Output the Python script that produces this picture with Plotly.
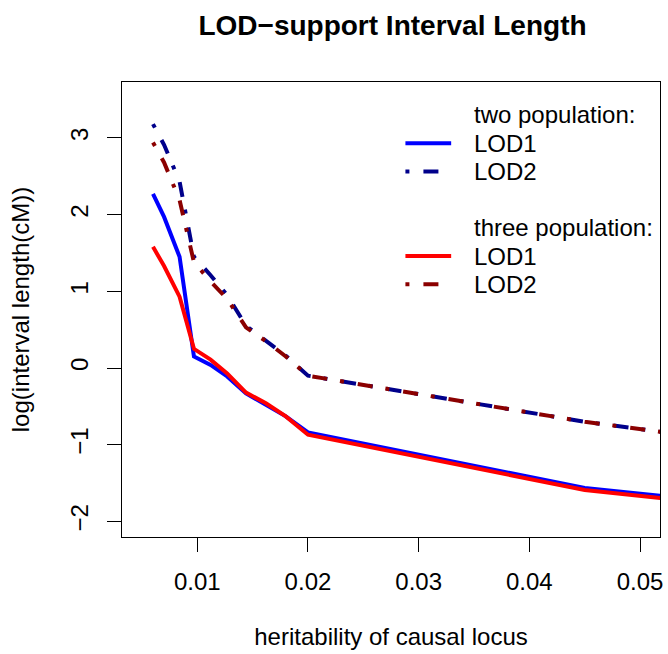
import plotly.graph_objects as go

# heritability grid of the simulated causal locus
heritability = [0.006, 0.0070, 0.0084, 0.0097, 0.0112, 0.0127, 0.0144, 0.0162, 0.0180, 0.0200, 0.0450, 0.0800]

# log interval length (cM) for LOD-1 and LOD-2 support intervals
two_pop_lod1 = [2.27, 1.97, 1.45, 0.15, 0.04, -0.11, -0.33, -0.48, -0.63, -0.84, -1.565, -2.08]
two_pop_lod2 = [3.18, 2.91, 2.43, 1.45, 1.21, 0.95, 0.55, 0.36, 0.16, -0.10, -0.70, -1.37]
three_pop_lod1 = [1.58, 1.33, 0.93, 0.25, 0.11, -0.07, -0.32, -0.46, -0.63, -0.87, -1.59, -2.13]
three_pop_lod2 = [2.94, 2.68, 2.19, 1.38, 1.13, 0.90, 0.53, 0.35, 0.15, -0.10, -0.70, -1.37]

x_ticks = [0.01, 0.02, 0.03, 0.04, 0.05]
y_ticks = [-2, -1, 0, 1, 2, 3]

# legend rows: (label, colour, dash) -- None colour means a header row
legend_rows = [
    ("two population:", None, None),
    ("LOD1", "#0000FF", "solid"),
    ("LOD2", "#00008B", "dotdash"),
    ("", None, None),
    ("three population:", None, None),
    ("LOD1", "#FF0000", "solid"),
    ("LOD2", "#8B0000", "dotdash"),
]

FONT = "Liberation Sans, Arial, Helvetica, sans-serif"
FS = 24
DOTDASH = "4px,14px,15px,13px"
LW = 4

W, H = 668, 654
L, R, T, B = 122, 5, 82, 117
PW, PH = W - L - R, H - T - B

fig = go.Figure()

series = [
    (two_pop_lod1, "#0000FF", "solid"),
    (two_pop_lod2, "#00008B", DOTDASH),
    (three_pop_lod1, "#FF0000", "solid"),
    (three_pop_lod2, "#8B0000", DOTDASH),
]
for ys, col, dash in series:
    fig.add_trace(go.Scatter(x=heritability, y=ys, mode="lines", showlegend=False,
                             line=dict(color=col, width=LW, dash=dash)))

# legend block in the upper right of the panel (no box)
def px_x(px):
    return (px - L) / PW

def px_y(py):
    return (H - B - py) / PH

row_top, row_step = 115.0, 28.2
key_x0, key_x1, text_x = 407, 453, 474
annotations = []
shapes = []
for i, (label, col, style) in enumerate(legend_rows):
    yc = row_top + i * row_step
    if label:
        annotations.append(dict(text=label, xref="paper", yref="paper",
                                x=px_x(text_x), y=px_y(yc), xanchor="left",
                                yanchor="middle", showarrow=False,
                                font=dict(family=FONT, size=FS, color="black")))
    if col:
        shapes.append(dict(type="line", xref="paper", yref="paper",
                           x0=px_x(key_x0), x1=px_x(key_x1), y0=px_y(yc), y1=px_y(yc),
                           line=dict(color=col, width=LW,
                                     dash=DOTDASH if style == "dotdash" else "solid")))

axis_common = dict(
    showgrid=False, zeroline=False, showline=True, mirror=True,
    linecolor="black", linewidth=1.3, ticks="outside", ticklen=14,
    tickwidth=1.3, tickcolor="black",
    tickfont=dict(family=FONT, size=FS, color="black"),
)

fig.update_layout(
    width=W, height=H,
    margin=dict(l=L, r=R, t=T, b=B),
    paper_bgcolor="white", plot_bgcolor="white",
    font=dict(family=FONT, size=FS, color="black"),
    title=dict(text="<b>LOD\u2212support Interval Length</b>",
               font=dict(family=FONT, size=28, color="black"),
               x=(L + W - R) / 2 / W, xanchor="center",
               y=1 - 25 / H, yanchor="middle", yref="container"),
    xaxis=dict(range=[0.0032, 0.0518], tickvals=x_ticks,
               ticktext=[f"{v:.2f}" for v in x_ticks],
               ticklabelstandoff=9,
               title=dict(text="heritability of causal locus", standoff=34,
                          font=dict(family=FONT, size=FS, color="black")),
               **axis_common),
    yaxis=dict(range=[-2.203, 3.729], tickvals=y_ticks, tickangle=-90,
               ticklabelstandoff=9,
               title=dict(text="log(interval length(cM))", standoff=29,
                          font=dict(family=FONT, size=FS, color="black")),
               **axis_common),
    annotations=annotations,
    shapes=shapes,
    showlegend=False,
)

fig.write_html("out.html")
